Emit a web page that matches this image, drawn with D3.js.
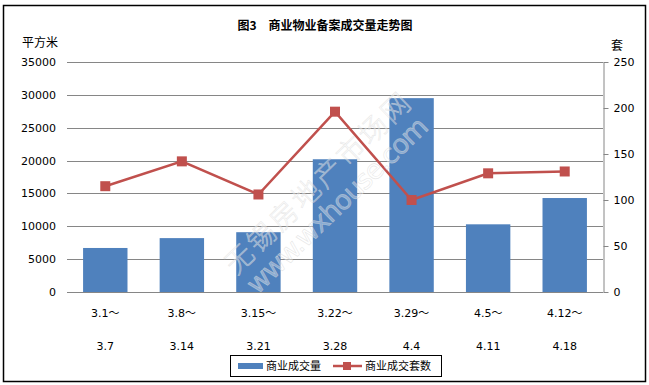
<!DOCTYPE html>
<html>
<head>
<meta charset="utf-8">
<script src="https://cdn.jsdelivr.net/npm/d3@7"></script>
<style>
  body { margin: 0; background: #fff; }
  text { font-family: "DejaVu Sans", "Noto Sans CJK SC", sans-serif; }
</style>
</head>
<body>
<div id="chart"></div>
<script>
// Chart data
var periodStart = ["3.1～", "3.8～", "3.15～", "3.22～", "3.29～", "4.5～", "4.12～"];
var periodEnd = ["3.7", "3.14", "3.21", "3.28", "4.4", "4.11", "4.18"];
var areaValues = [6700, 8200, 9100, 20200, 29500, 10300, 14300];
var unitValues = [115, 142, 106, 196, 100, 129, 131];
var leftTicks = [0, 5000, 10000, 15000, 20000, 25000, 30000, 35000];
var rightTicks = [0, 50, 100, 150, 200, 250];

var W = 649, H = 385;
var margin = {top: 62, right: 46, bottom: 93, left: 67};
var width = W - margin.left - margin.right;
var height = H - margin.top - margin.bottom;

var svg = d3.select("#chart").append("svg")
  .attr("width", W)
  .attr("height", H);

// outer frame
svg.append("rect")
  .attr("x", 3.5).attr("y", 5.5)
  .attr("width", 642).attr("height", 376)
  .attr("fill", "#fff")
  .attr("stroke", "#000")
  .attr("stroke-width", 1.5);

svg.append("text")
  .attr("x", 325).attr("y", 30)
  .attr("text-anchor", "middle")
  .style("font-family", "'Noto Sans CJK SC', sans-serif")
  .style("font-weight", "bold")
  .style("font-size", "12px")
  .text("图3　商业物业备案成交量走势图");

svg.append("text")
  .attr("x", 22).attr("y", 47)
  .style("font-family", "'Noto Sans CJK SC', sans-serif")
  .style("font-size", "12px")
  .text("平方米");
svg.append("text")
  .attr("x", 611).attr("y", 50)
  .style("font-family", "'Noto Sans CJK SC', sans-serif")
  .style("font-size", "12px")
  .text("套");

var g = svg.append("g")
  .attr("transform", `translate(${margin.left},${margin.top})`);

// Scales
var xScale = d3.scaleBand()
  .domain(d3.range(periodStart.length))
  .range([0, width])
  .paddingInner(0.42)
  .paddingOuter(0.21);
var yLeft = d3.scaleLinear().domain([0, 35000]).range([height, 0]);
var yRight = d3.scaleLinear().domain([0, 250]).range([height, 0]);

// gridlines
g.append("g")
  .selectAll("line")
  .data(leftTicks)
  .join("line")
  .attr("x1", 0).attr("x2", width)
  .attr("y1", d => Math.round(yLeft(d)) + 0.5)
  .attr("y2", d => Math.round(yLeft(d)) + 0.5)
  .attr("stroke", "#868686")
  .attr("stroke-width", 1);

// left axis labels
var leftAxis = g.append("g")
  .call(d3.axisLeft(yLeft).tickValues(leftTicks).tickSize(0).tickPadding(11).tickFormat(d3.format("d")));
leftAxis.select(".domain").remove();
leftAxis.selectAll("text").style("font-size", "11px").attr("fill", "#000");

// right axis
var rightAxis = g.append("g")
  .attr("transform", `translate(${width + 0.5},0)`)
  .call(d3.axisRight(yRight).tickValues(rightTicks).tickSize(5).tickPadding(5).tickSizeOuter(0));
rightAxis.select(".domain").attr("stroke", "#868686");
rightAxis.selectAll(".tick line").attr("stroke", "#868686");
rightAxis.selectAll("text").style("font-size", "11px").attr("fill", "#000");

// bars
g.append("g")
  .selectAll("rect")
  .data(areaValues)
  .join("rect")
  .attr("x", (d, i) => xScale(i))
  .attr("y", d => yLeft(d))
  .attr("width", xScale.bandwidth())
  .attr("height", d => height - yLeft(d))
  .attr("fill", "#4F81BD");

// x axis line on top of bars
g.append("line")
  .attr("x1", 0).attr("x2", width)
  .attr("y1", height + 0.5).attr("y2", height + 0.5)
  .attr("stroke", "#868686");

// watermark (outlined, faint)
svg.append("text")
  .attr("transform", "translate(316,182) rotate(-44)")
  .attr("text-anchor", "middle")
  .attr("dominant-baseline", "central")
  .attr("textLength", 245)
  .style("font-family", "'Noto Sans CJK SC', sans-serif")
  .style("font-weight", "300")
  .style("font-size", "28px")
  .attr("fill", "rgba(255,255,255,0.35)")
  .attr("stroke", "rgba(215,215,215,0.6)")
  .attr("stroke-width", 0.6)
  .text("无锡房地产市场网");
svg.append("text")
  .attr("transform", "translate(337,205) rotate(-44)")
  .attr("text-anchor", "middle")
  .attr("dominant-baseline", "central")
  .attr("textLength", 240)
  .style("font-size", "27px")
  .attr("fill", "rgba(255,255,255,0.35)")
  .attr("stroke", "rgba(215,215,215,0.6)")
  .attr("stroke-width", 0.6)
  .text("www.wxhouse.com");

// line series
var cx = i => xScale(i) + xScale.bandwidth() / 2;
var line = d3.line()
  .x((d, i) => cx(i))
  .y(d => yRight(d));
g.append("path")
  .datum(unitValues)
  .attr("d", line)
  .attr("fill", "none")
  .attr("stroke", "#C0504D")
  .attr("stroke-width", 2.5);
g.append("g")
  .selectAll("rect")
  .data(unitValues)
  .join("rect")
  .attr("x", (d, i) => cx(i) - 5)
  .attr("y", d => yRight(d) - 5)
  .attr("width", 10).attr("height", 10)
  .attr("fill", "#C0504D");

// category labels, two rows
var xl = g.append("g").selectAll("g")
  .data(periodStart)
  .join("g")
  .attr("transform", (d, i) => `translate(${cx(i)},${height})`);
xl.append("text")
  .attr("y", 25)
  .attr("text-anchor", "middle")
  .style("font-size", "11px")
  .text(d => d);
xl.append("text")
  .attr("y", 58)
  .attr("text-anchor", "middle")
  .style("font-size", "11px")
  .text((d, i) => periodEnd[i]);

// legend
var lg = svg.append("g").attr("transform", "translate(230,355)");
lg.append("rect")
  .attr("x", 0.5).attr("y", 0.5)
  .attr("width", 211).attr("height", 21)
  .attr("fill", "#fff").attr("stroke", "#000");
lg.append("rect")
  .attr("x", 8).attr("y", 8)
  .attr("width", 25).attr("height", 6)
  .attr("fill", "#4F81BD");
lg.append("text")
  .attr("x", 36).attr("y", 15)
  .style("font-family", "'Noto Sans CJK SC', sans-serif")
  .style("font-size", "11px")
  .text("商业成交量");
lg.append("line")
  .attr("x1", 103).attr("x2", 132)
  .attr("y1", 11).attr("y2", 11)
  .attr("stroke", "#C0504D").attr("stroke-width", 2.5);
lg.append("rect")
  .attr("x", 113).attr("y", 7)
  .attr("width", 8).attr("height", 8)
  .attr("fill", "#C0504D");
lg.append("text")
  .attr("x", 135).attr("y", 15)
  .style("font-family", "'Noto Sans CJK SC', sans-serif")
  .style("font-size", "11px")
  .text("商业成交套数");
</script>
</body>
</html>
